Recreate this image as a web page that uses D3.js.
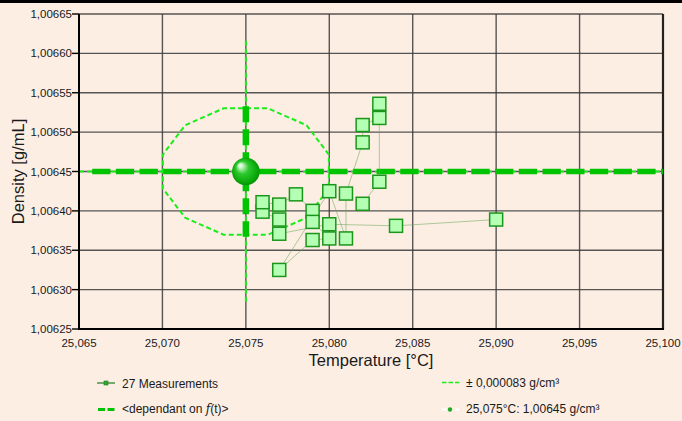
<!DOCTYPE html>
<html>
<head>
<meta charset="utf-8">
<script src="https://cdn.jsdelivr.net/npm/d3@7"></script>
<style>
  html, body { margin: 0; padding: 0; background: #fdeee4; }
  svg { display: block; }
  text { font-family: "Liberation Sans", Arial, sans-serif; fill: #1a1a1a; }
</style>
</head>
<body>
<svg id="chart" width="682" height="421"></svg>
<script>
// ---- data ----
const xTicks = [25.065, 25.070, 25.075, 25.080, 25.085, 25.090, 25.095, 25.100];
const xTickLabels = ["25,065", "25,070", "25,075", "25,080", "25,085", "25,090", "25,095", "25,100"];
const yTicks = [1.00625, 1.00630, 1.00635, 1.00640, 1.00645, 1.00650, 1.00655, 1.00660, 1.00665];
const yTickLabels = ["1,00625", "1,00630", "1,00635", "1,00640", "1,00645", "1,00650", "1,00655", "1,00660", "1,00665"];

// measurements in order (temperature °C, density g/mL)
const measT = [25.090, 25.084, 25.080, 25.077, 25.077, 25.076, 25.076, 25.077, 25.078, 25.079, 25.079, 25.080,
               25.079, 25.077, 25.080, 25.081, 25.081, 25.082, 25.082, 25.083, 25.083, 25.083, 25.082];
const measD = [1.006389, 1.006381, 1.006383, 1.006371, 1.006389, 1.006399, 1.006411, 1.006408, 1.006421, 1.006400,
               1.006386, 1.006365, 1.006363, 1.006325, 1.006425, 1.006365, 1.006422, 1.006487, 1.006509, 1.006518,
               1.006536, 1.006437, 1.006409];

const meanT = 25.075;
const meanD = 1.00645;
const uncD = 0.000083;      // ± g/cm³
const uncT = 0.00515;       // ellipse half-width in °C
const fLineT = [25.06579, 25.100]; // f(t) line extent
const legendLabels = ["27 Measurements", "<dependant on ", "± 0,000083 g/cm³", "25,075°C: 1,00645 g/cm³"];

// ---- layout ----
const svg = d3.select("#chart");
const W = 682, H = 421;
const m = { left: 79, right: 663, top: 14, bottom: 329 };
const x = d3.scaleLinear().domain([25.065, 25.100]).range([m.left, m.right]);
const y = d3.scaleLinear().domain([1.00625, 1.00665]).range([m.bottom, m.top]);

svg.append("rect").attr("width", W).attr("height", H).attr("fill", "#fdeee4");
svg.append("rect").attr("x", 0).attr("y", 0).attr("width", W).attr("height", 3).attr("fill", "#000");

const defs = svg.append("defs");
const grad = defs.append("radialGradient").attr("id", "sphere")
  .attr("cx", "50%").attr("cy", "50%").attr("r", "55%").attr("fx", "28%").attr("fy", "26%");
grad.append("stop").attr("offset", "0%").attr("stop-color", "#ffffff");
grad.append("stop").attr("offset", "14%").attr("stop-color", "#c8f5c8");
grad.append("stop").attr("offset", "42%").attr("stop-color", "#2ec82e");
grad.append("stop").attr("offset", "80%").attr("stop-color", "#0aaa0a");
grad.append("stop").attr("offset", "100%").attr("stop-color", "#008a00");

const clip = defs.append("clipPath").attr("id", "plotclip");
clip.append("rect").attr("x", m.left).attr("y", m.top).attr("width", m.right - m.left).attr("height", m.bottom - m.top);

// grid
const grid = svg.append("g");
grid.selectAll("line.v").data(xTicks).join("line")
  .attr("x1", d => x(d)).attr("x2", d => x(d)).attr("y1", m.top).attr("y2", m.bottom)
  .attr("stroke", "#3a3a3a").attr("stroke-width", 1.4).attr("stroke-opacity", 0.85);
grid.selectAll("line.h").data(yTicks).join("line")
  .attr("y1", d => y(d)).attr("y2", d => y(d)).attr("x1", m.left).attr("x2", m.right)
  .attr("stroke", "#3a3a3a").attr("stroke-width", 1.4).attr("stroke-opacity", 0.85);
// right border
svg.append("line").attr("x1", m.right).attr("x2", m.right).attr("y1", m.top).attr("y2", m.bottom)
  .attr("stroke", "#222").attr("stroke-width", 2.2);

const plot = svg.append("g").attr("clip-path", "url(#plotclip)");

const thin = "#1aee1a", thick = "#00c400";

// thin dashed horizontal at mean
plot.append("line").attr("x1", m.left).attr("x2", m.right).attr("y1", y(meanD)).attr("y2", y(meanD))
  .attr("stroke", thin).attr("stroke-width", 2).attr("stroke-dasharray", "5,3");
// thin dashed vertical ±2u
plot.append("line").attr("x1", x(meanT)).attr("x2", x(meanT)).attr("y1", y(meanD + 2 * uncD)).attr("y2", y(meanD - 2 * uncD))
  .attr("stroke", thin).attr("stroke-width", 2).attr("stroke-dasharray", "5,3");

// uncertainty ellipse (12-vertex polygon)
const angles = d3.range(12).map(k => (15 + 30 * k) * Math.PI / 180);
const ell = angles.map(a => [x(meanT + uncT * Math.cos(a)), y(meanD + uncD * Math.sin(a))]);
plot.append("path").attr("d", d3.line().curve(d3.curveLinearClosed)(ell))
  .attr("fill", "none").attr("stroke", thin).attr("stroke-width", 2).attr("stroke-dasharray", "5,3");

// thick dashed f(t) line
plot.append("line").attr("x1", x(fLineT[0])).attr("x2", x(fLineT[1])).attr("y1", y(meanD)).attr("y2", y(meanD))
  .attr("stroke", thick).attr("stroke-width", 5.5).attr("stroke-dasharray", "18.3,5.4");
// thick dashed vertical ±u
plot.append("line").attr("x1", x(meanT)).attr("x2", x(meanT)).attr("y1", y(meanD + uncD)).attr("y2", y(meanD - uncD))
  .attr("stroke", thick).attr("stroke-width", 6.5).attr("stroke-dasharray", "16,7");

// measurement path
const pts = measT.map((t, i) => [x(t), y(measD[i])]);
plot.append("path").attr("d", d3.line()(pts)).attr("fill", "none")
  .attr("stroke", "#6aa85a").attr("stroke-width", 0.8).attr("stroke-opacity", 0.7);

// squares
const sz = 13;
plot.selectAll("rect.sq").data(pts).join("rect").attr("class", "sq")
  .attr("x", d => d[0] - sz / 2).attr("y", d => d[1] - sz / 2).attr("width", sz).attr("height", sz)
  .attr("fill", "#b4ffb4").attr("stroke", "#1a961a").attr("stroke-width", 1.5);

// mean sphere
plot.append("circle").attr("cx", x(meanT)).attr("cy", y(meanD)).attr("r", 13.8).attr("fill", "url(#sphere)");

// axes lines
svg.append("line").attr("x1", m.left).attr("x2", m.left).attr("y1", m.top).attr("y2", m.bottom + 1)
  .attr("stroke", "#000").attr("stroke-width", 2);
svg.append("line").attr("x1", m.left).attr("x2", m.right + 1).attr("y1", m.bottom).attr("y2", m.bottom)
  .attr("stroke", "#000").attr("stroke-width", 2);

// y ticks
svg.selectAll("line.yt").data(yTicks).join("line")
  .attr("x1", m.left - 7).attr("x2", m.left).attr("y1", d => y(d)).attr("y2", d => y(d))
  .attr("stroke", "#000").attr("stroke-width", 1.4);
svg.selectAll("text.yl").data(yTicks).join("text")
  .attr("x", m.left - 7).attr("y", d => y(d)).attr("dy", "0.35em")
  .attr("text-anchor", "end").attr("font-size", "11.5px")
  .text((d, i) => yTickLabels[i]);
svg.selectAll("text.xl").data(xTicks).join("text")
  .attr("x", d => x(d)).attr("y", 346.5)
  .attr("text-anchor", "middle").attr("font-size", "11.5px")
  .text((d, i) => xTickLabels[i]);

// axis titles
svg.append("text").attr("x", (m.left + m.right) / 2).attr("y", 365.5).attr("text-anchor", "middle")
  .attr("font-size", "16.5px").text("Temperature [°C]");
svg.append("text").attr("transform", `translate(23.5,${(m.top + m.bottom) / 2}) rotate(-90)`)
  .attr("text-anchor", "middle").attr("font-size", "16.5px").text("Density [g/mL]");

// legend
const lg = svg.append("g");
// row 1 left
lg.append("line").attr("x1", 97).attr("x2", 115).attr("y1", 383).attr("y2", 383).attr("stroke", "#1f7a1f").attr("stroke-width", 1.2);
lg.append("rect").attr("x", 104).attr("y", 381).attr("width", 4).attr("height", 4).attr("fill", "#33aa33").attr("stroke", "#1f7a1f").attr("stroke-width", 0.6);
lg.append("text").attr("x", 122).attr("y", 387.5).attr("font-size", "12px").text(legendLabels[0]);
// row 2 left
lg.append("line").attr("x1", 98).attr("x2", 115).attr("y1", 409.5).attr("y2", 409.5).attr("stroke", thick).attr("stroke-width", 3.2).attr("stroke-dasharray", "7,2.5");
const t2 = lg.append("text").attr("x", 122).attr("y", 413).attr("font-size", "12px");
t2.append("tspan").text(legendLabels[1]);
t2.append("tspan").attr("font-family", "'DejaVu Serif', serif").attr("font-style", "italic").text("f");
t2.append("tspan").text("(t)>");
// row 1 right
lg.append("line").attr("x1", 442).attr("x2", 460).attr("y1", 382.5).attr("y2", 382.5).attr("stroke", thin).attr("stroke-width", 1.6).attr("stroke-dasharray", "4.5,2");
lg.append("text").attr("x", 466).attr("y", 387).attr("font-size", "12px").text(legendLabels[2]);
// row 2 right
lg.append("line").attr("x1", 442).attr("x2", 460).attr("y1", 409.5).attr("y2", 409.5).attr("stroke", "#ffffff").attr("stroke-width", 1.8).attr("stroke-dasharray", "4.5,2");
lg.append("circle").attr("cx", 450).attr("cy", 409.5).attr("r", 2.2).attr("fill", "#22aa22");
lg.append("text").attr("x", 466).attr("y", 413).attr("font-size", "12px").text(legendLabels[3]);
</script>
</body>
</html>
